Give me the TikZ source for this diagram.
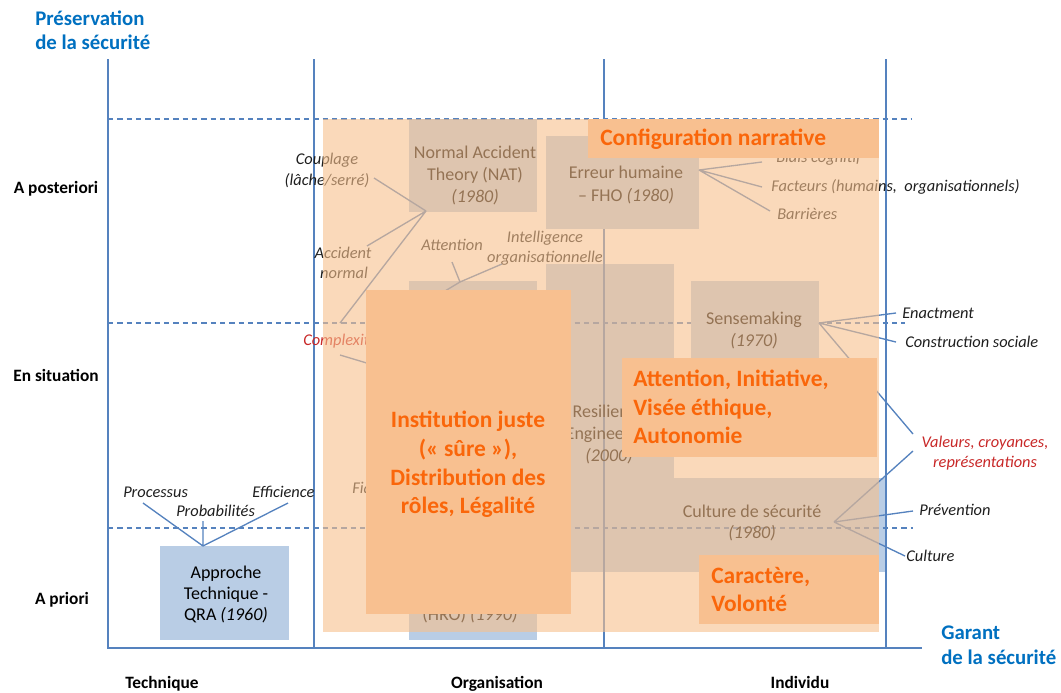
\documentclass[tikz,border=0pt]{standalone}
\usepackage{fontspec}
\setmainfont{Carlito}
\usetikzlibrary{fit}
\definecolor{axisblue}{RGB}{85,130,190}
\definecolor{boxblue}{RGB}{185,205,229}
\definecolor{peach}{RGB}{247,192,140}
\definecolor{orangebox}{RGB}{248,192,144}
\definecolor{orangetext}{RGB}{250,102,10}
\definecolor{titleblue}{RGB}{0,112,192}
\definecolor{redtext}{RGB}{200,40,40}
\definecolor{lbltext}{RGB}{30,30,30}
\begin{document}
\begin{tikzpicture}[x=0.75pt,y=-0.75pt,
  axis/.style={draw=axisblue, line width=1.1pt},
  gridline/.style={draw=axisblue, line width=0.9pt, dash pattern=on 4pt off 3pt},
  link/.style={draw=axisblue, line width=1pt},
  bluebox/.style={fill=boxblue, draw=none, inner sep=0pt, outer sep=0pt},
  obox/.style={fill=orangebox, draw=none, inner sep=0pt, outer sep=0pt},
  lbl/.style={inner sep=0pt, font=\fontsize{12.3}{14}\selectfont\itshape, text=lbltext},
  boxtxt/.style={inner sep=0pt, font=\fontsize{13.5}{16}\selectfont, text=black},
  otxt/.style={inner sep=0pt, font=\fontsize{17.6}{21}\selectfont\bfseries, text=orangetext},
  axlbl/.style={inner sep=0pt, font=\fontsize{13}{16}\selectfont\bfseries, text=black},
  ttl/.style={inner sep=0pt, font=\fontsize{15.6}{18}\selectfont\bfseries, text=titleblue},
]
\useasboundingbox (0,0) rectangle (1061,693);

% ---------- blue boxes lying under the grid lines
\node[bluebox, fit={(546,264)(674,572)}] (resbox) {};
\node[bluebox, fit={(618,478)(886,572)}] (culbox) {};
\node[bluebox, fit={(409,281)(537,640)}] (hrobox) {};
\node[bluebox, fit={(160,546)(289,640)}] (qrabox) {};
\node[bluebox, fit={(409,119)(537,212)}] (natbox) {};

% ---------- axes and grid
\draw[axis] (108,59) -- (108,648) -- (922,648);
\draw[axis] (314,59) -- (314,648);
\draw[axis] (604,59) -- (604,648);
\draw[axis] (886,59) -- (886,648);
\draw[gridline] (108,119) -- (912,119);
\draw[gridline] (108,323) -- (905,323);
\draw[gridline] (108,528) -- (913,528);

% ---------- blue boxes over the grid lines
\node[bluebox, fit={(546,136)(699,229)}] (errbox) {};
\node[bluebox, fit={(691,281)(819,450)}] (sensbox) {};

% ---------- titles and axis labels
\node[ttl, anchor=base west] (t1a) at (35,25) {Préservation};
\node[ttl, anchor=base west] (t1b) at (35,49) {de la sécurité};
\node[ttl, anchor=base west] (t2a) at (941,639) {Garant};
\node[ttl, anchor=base west] (t2b) at (941,664) {de la sécurité};
\node[axlbl, anchor=base] (ypost) at (56,193) {A posteriori};
\node[axlbl, anchor=base] (ysit) at (56,381) {En situation};
\node[axlbl, anchor=base] (yprio) at (62,604) {A priori};
\node[axlbl, anchor=base] (xtech) at (162,688) {Technique};
\node[axlbl, anchor=base] (xorg) at (497,688) {Organisation};
\node[axlbl, anchor=base] (xind) at (800,688) {Individu};

% ---------- texts inside the blue boxes
\node[boxtxt, anchor=base] (nat1) at (475,158) {Normal Accident};
\node[boxtxt, anchor=base] (nat2) at (475,180) {Theory (NAT)};
\node[boxtxt, anchor=base] (nat3) at (475,202) {\itshape (1980)};
\node[boxtxt, anchor=base] (err1) at (626,178) {Erreur humaine};
\node[boxtxt, anchor=base] (err2) at (626,201) {– FHO \textit{(1980)}};
\node[boxtxt, anchor=base] (sens1) at (754,324) {Sensemaking};
\node[boxtxt, anchor=base] (sens2) at (754,346) {\itshape (1970)};
\node[boxtxt, anchor=base] (res1) at (609,417) {Resilience};
\node[boxtxt, anchor=base] (res2) at (609,439) {Engineering};
\node[boxtxt, anchor=base] (res3) at (609,461) {\itshape (2000)};
\node[boxtxt, anchor=base] (cul1) at (752,517) {Culture de sécurité};
\node[boxtxt, anchor=base] (cul2) at (752,538) {\itshape (1980)};
\node[boxtxt, anchor=base] (hro1) at (470,620) {(HRO) \textit{(1990)}};
\node[boxtxt, anchor=base] (qra1) at (226,578) {Approche};
\node[boxtxt, anchor=base] (qra2) at (226,599) {Technique -};
\node[boxtxt, anchor=base] (qra3) at (226,620) {QRA \textit{(1960)}};

% ---------- italic labels
\node[lbl, anchor=base] (coup1) at (327,164) {Couplage};
\node[lbl, anchor=base] (coup2) at (327,185) {(lâche/serré)};
\node[lbl, anchor=base] (acc1) at (343,258) {Accident};
\node[lbl, anchor=base] (acc2) at (344,278) {normal};
\node[lbl, anchor=base] (att) at (452,250) {Attention};
\node[lbl, anchor=base] (int1) at (545,242) {Intelligence};
\node[lbl, anchor=base] (int2) at (545,262) {organisationnelle};
\node[lbl, anchor=base west, text=redtext] (cplx) at (303,345) {Complexité};
\node[lbl, anchor=base west] (fiab) at (352,493) {Fiabilité};
\node[lbl, anchor=base west] (biais) at (776,162) {Biais cognitif};
\node[lbl, anchor=base west] (fact) at (771,191) {Facteurs (humains,\ \ organisationnels)};
\node[lbl, anchor=base west] (barr) at (777,219) {Barrières};
\node[lbl, anchor=base west] (enact) at (902,318) {Enactment};
\node[lbl, anchor=base west] (constr) at (905,347) {Construction sociale};
\node[lbl, anchor=base, text=redtext] (val1) at (985,447) {Valeurs, croyances,};
\node[lbl, anchor=base, text=redtext] (val2) at (985,467) {représentations};
\node[lbl, anchor=base west] (prev) at (919,515) {Prévention};
\node[lbl, anchor=base west] (cult) at (906,561) {Culture};
\node[lbl, anchor=base west] (proc) at (123,497) {Processus};
\node[lbl, anchor=base west] (proba) at (176,516) {Probabilités};
\node[lbl, anchor=base west] (effi) at (252,497) {Efficience};

% ---------- connectors
\coordinate (hNAT) at (426,211);
\coordinate (eCoup) at (374,178);
\coordinate (eAcc) at (367,246);
\coordinate (eCpx) at (340,323);
\draw[link] (hNAT) -- (eCoup) (hNAT) -- (eAcc) (hNAT) -- (eCpx);
\coordinate (sCpx) at (340,355);
\coordinate (hHRO) at (430,382);
\draw[link] (sCpx) -- (hHRO);
\coordinate (hATT) at (460,282);
\coordinate (eAtt) at (452,262);
\coordinate (eInt) at (502,264);
\coordinate (eAttIn) at (440,294);
\draw[link] (hATT) -- (eAtt) (hATT) -- (eInt) (hATT) -- (eAttIn);
\coordinate (hERR) at (699,170);
\coordinate (eBia) at (762,162);
\coordinate (eFac) at (762,187);
\coordinate (eBar) at (770,211);
\draw[link] (hERR) -- (eBia) (hERR) -- (eFac) (hERR) -- (eBar);
\coordinate (hSEN) at (819,323);
\coordinate (eEna) at (896,313);
\coordinate (eCon) at (896,342);
\coordinate (eVal) at (913,434);
\draw[link] (hSEN) -- (eEna) (hSEN) -- (eCon) (hSEN) -- (eVal);
\coordinate (hCUL) at (834,522);
\coordinate (eRep) at (913,451);
\coordinate (ePre) at (913,511);
\coordinate (eCul) at (905,556);
\draw[link] (hCUL) -- (eRep) (hCUL) -- (ePre) (hCUL) -- (eCul);
\coordinate (hQRA) at (203,546);
\coordinate (ePro) at (143,503);
\coordinate (ePrb) at (203,521);
\coordinate (eEff) at (288,503);
\draw[link] (hQRA) -- (ePro) (hQRA) -- (ePrb) (hQRA) -- (eEff);

% ---------- translucent orange layer
\fill[peach, fill opacity=0.6] (323,119) rectangle (879,632);

% ---------- opaque orange boxes
\node[obox, fit={(588,119)(879,158)}] (confbox) {};
\node[obox, fit={(366,290)(571,614)}] (instbox) {};
\node[obox, fit={(622,358)(877,457)}] (attbox) {};
\node[obox, fit={(699,555)(879,624)}] (carbox) {};
\node[otxt, anchor=base west] (conf1) at (600,145) {Configuration narrative};
\node[otxt, anchor=base] (inst1) at (468,427) {Institution juste};
\node[otxt, anchor=base] (inst2) at (468,456) {(« sûre »),};
\node[otxt, anchor=base] (inst3) at (468,485) {Distribution des};
\node[otxt, anchor=base] (inst4) at (468,513) {rôles, Légalité};
\node[otxt, anchor=base west] (att1) at (633,386) {Attention, Initiative,};
\node[otxt, anchor=base west] (att2) at (633,415) {Visée éthique,};
\node[otxt, anchor=base west] (att3) at (633,443) {Autonomie};
\node[otxt, anchor=base west] (car1) at (711,583) {Caractère,};
\node[otxt, anchor=base west] (car2) at (711,611) {Volonté};
\end{tikzpicture}
\end{document}
